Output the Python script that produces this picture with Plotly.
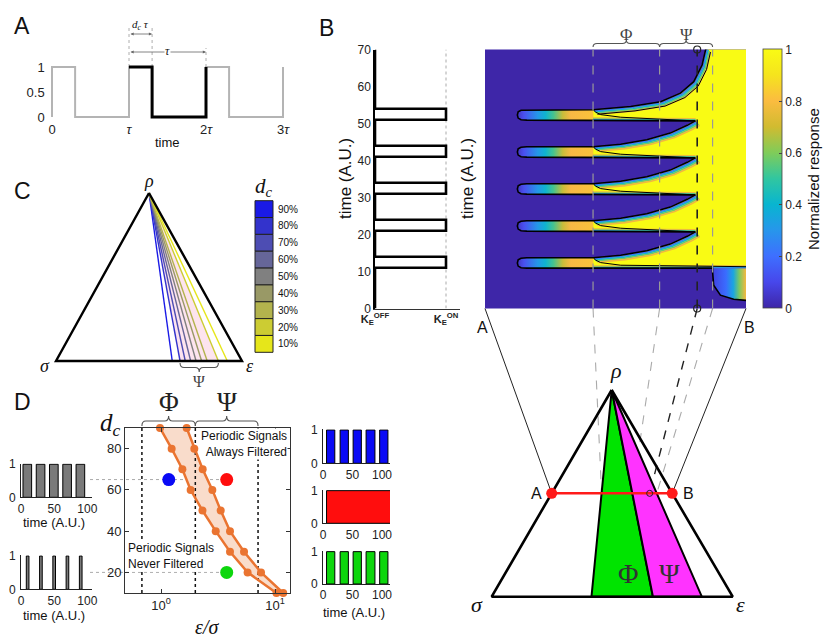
import math
import plotly.graph_objects as go

W, H = 830, 637
SANS = "Liberation Sans, Arial, sans-serif"
SERIF = "Liberation Serif, Times New Roman, serif"

# ---------------- data ----------------
# A: duty-cycle schematic, time in units of tau
a_time = [0, 0, 0.3, 0.3, 1, 1, 1.3, 1.3, 2, 2, 2.3, 2.3, 3, 3]
a_level = [0, 1, 1, 0, 0, 1, 1, 0, 0, 1, 1, 0, 0, 1]
a_ticks = [0, 1, 2, 3]
a_ticktext = ["0", "<i>τ</i>", "2<i>τ</i>", "3<i>τ</i>"]
a_duty = 0.3

# B: input pulses (left) and normalized response along the A-B cut (map)
b_on = [11, 21, 31, 41, 51]
b_off = [14, 24, 34, 44, 54]
b_ticks = list(range(0, 71, 10))
resp_on = [10.9, 20.9, 30.9, 40.9, 50.9]
resp_off = [13.7, 23.7, 33.7, 43.7, 53.7]
phi_lo, psi_lo, psi_hi = 0.414, 0.669, 0.872      # region borders on the cut
probe = 0.813
tongue_x = [0.414, 0.16, 0.138, 0.127, 0.124, 0.127, 0.138, 0.16, 0.414]
tongue_f = [1.0, 1.0, 0.96, 0.8, 0.5, 0.2, 0.04, 0.0, 0.0]
wedge_x = [0.414, 0.52, 0.62, 0.71, 0.775, 0.806]
wedge_dt = [0, 0.7, 1.9, 3.7, 5.8, 7.0]
last_x = [0.414, 0.558, 0.673, 0.749, 0.800, 0.832, 0.847]
last_dt = [0, 0.9, 2.2, 4.5, 7.6, 12.1, 16.8]
hook_x = [0.416, 0.424, 0.443, 0.52]
hook_dt = [2.7, 2.2, 1.5, 0.8]
onset_x = [0.872, 0.876, 0.902, 0.953, 1.0]
onset_t = [9.9, 6.3, 3.6, 2.5, 2.2]
cbar_ticks = [0, 0.2, 0.4, 0.6, 0.8, 1]

# C: d_c curves meeting the sigma-epsilon edge (fraction of the edge)
c_labels = ["90%", "80%", "70%", "60%", "50%", "40%", "30%", "20%", "10%"]
c_colors = ["#1a1ae6", "#3333cc", "#4d4db3", "#666699", "#808080",
            "#999966", "#b3b34d", "#cccc33", "#e6e61a"]
c_base = [0.625, 0.667, 0.695, 0.724, 0.753, 0.783, 0.813, 0.873, 0.921]

# D: filtering band
d_rows = [90, 80, 70, 60, 50, 40, 30, 20, 10]
d_lo = [0.98, 1.24, 1.54, 1.82, 2.31, 3.02, 4.03, 5.75, 10.3]
d_hi = [1.68, 1.96, 2.32, 2.82, 3.34, 4.03, 5.35, 7.54, 11.8]
d_borders = [0.68, 2.0, 7.1]
probe_ratio = [1.17, 3.77, 3.77]
probe_dc = [65, 65, 20]
probe_color = ["#0a0af5", "#ff0d0d", "#0dd60d"]
in_wide_on, in_wide_off = [3, 23, 43, 63, 83], [16, 36, 56, 76, 96]
in_thin_on, in_thin_off = [8, 28, 48, 68, 88], [12, 32, 52, 72, 92]
out_on, out_off = [6, 29, 51, 73, 96], [20, 43, 65, 88, 110]
steady_on, steady_off = [6], [120]

PARULA = [[0.0, "#3e26a8"], [0.1, "#4747eb"], [0.2, "#3e6fff"], [0.3, "#2796eb"],
          [0.4, "#08b5d0"], [0.5, "#31c6a0"], [0.6, "#80cc59"], [0.7, "#d1bb30"],
          [0.8, "#fbbc40"], [0.9, "#f5e41d"], [1.0, "#f9fb14"]]
TONGUE_CS = [[0, "#3e26a8"], [0.13, "#4a50f0"], [0.3, "#2596e8"], [0.4, "#0fb3d0"],
             [0.5, "#45c38f"], [0.62, "#c9bd3a"], [0.72, "#f8b845"], [1, "#f9c23a"]]
ONSET_CS = [[0, "#4242e0"], [0.4, "#3a6cff"], [0.62, "#1aa6e0"], [0.8, "#7cc860"], [1, "#f5b840"]]
YELLOW = "#f9fb14"

# ---------------- panel boxes in page pixels (x0, x1, y0, y1) ----------------
A_BOX, A_XR, A_YR = (49.7, 285.3, 62, 119.5), [-0.03, 3.03], [-0.05, 1.1]
B_BOX, B_XR = (375, 460.2, 49.5, 308.5), [0, 1.2]
HM_BOX = (485, 746, 49.5, 308.5)
T_RANGE = [0, 70]
D_BOX, D_XR, D_YR = (125, 290, 428, 593), [-0.3158, 1.1316], [10, 90]
SMALL = {"6": (21, 92, 463.6, 497.3), "7": (21, 92, 555.3, 589.3),
         "8": (323, 390, 429.3, 463.3), "9": (323, 390, 490, 523.3), "10": (323, 390, 551, 584)}
TRI_C = dict(top=(149, 193), left=(56, 361), right=(242, 361))
TRI_B = dict(top=(611.7, 390), left=(491.7, 596.7), right=(732.7, 596.7))
CUT = 0.5


def lin(v, r0, r1, p0, p1):
    return p0 + (v - r0) * (p1 - p0) / (r1 - r0)


def a_x(t):
    return lin(t, A_XR[0], A_XR[1], A_BOX[0], A_BOX[1])


def a_y(v):
    return lin(v, A_YR[0], A_YR[1], A_BOX[3], A_BOX[2])


def hm_x(f):
    return HM_BOX[0] + f * (HM_BOX[1] - HM_BOX[0])


def d_x(v):
    return lin(math.log10(v), D_XR[0], D_XR[1], D_BOX[0], D_BOX[1])


def d_y(v):
    return lin(v, D_YR[0], D_YR[1], D_BOX[3], D_BOX[2])


def base_pt(tri, f):
    (lx, ly), (rx, _) = tri["left"], tri["right"]
    return lx + f * (rx - lx), ly


def edge_pt(tri, side, s):
    (tx, ty), (ex, ey) = tri["top"], tri[side]
    return tx + s * (ex - tx), ty + s * (ey - ty)


fig = go.Figure()


def add(xs, ys, ax="", **kw):
    kw.setdefault("mode", "lines")
    fig.add_trace(go.Scatter(x=list(xs), y=list(ys), xaxis="x" + ax, yaxis="y" + ax,
                             hoverinfo="skip", showlegend=False, **kw))


annotations, shapes = [], []


def note(x, y, text, size=13, color="#111", family=SANS, **kw):
    annotations.append(dict(x=x, y=y, xref="x", yref="y", text=text, showarrow=False,
                            font=dict(size=size, color=color, family=family), **kw))


def brace(x0, x1, y, h, color="#555"):
    # curly brace whose tip sits h pixels above y (negative h: below)
    xm, r, ym, yt = (x0 + x1) / 2, min(4, (x1 - x0) / 8), y - h / 2, y - h
    path = (f"M{x0},{y} Q{x0},{ym} {x0 + r},{ym} L{xm - r},{ym} Q{xm},{ym} {xm},{yt} "
            f"Q{xm},{ym} {xm + r},{ym} L{x1 - r},{ym} Q{x1},{ym} {x1},{y}")
    shapes.append(dict(type="path", path=path, xref="x", yref="y",
                       line=dict(color=color, width=1.1)))


# ---------------- A ----------------
add(a_time, a_level, "2", line=dict(color="#b4b4b4", width=2))
add(a_time[5:10], a_level[5:10], "2", line=dict(color="black", width=3))
for t, top in [(1, 25), (1 + a_duty, 25), (2, 48)]:
    add([a_x(t), a_x(t)], [a_y(1), top], line=dict(color="#999", width=0.8, dash="dot"))
for t0, t1, yy in [(1, 1 + a_duty, 34), (1, 2, 52)]:
    annotations.append(dict(x=a_x(t1), y=yy, ax=a_x(t0), ay=yy, xref="x", yref="y",
                            axref="x", ayref="y", text="", showarrow=True, arrowhead=2,
                            arrowside="end+start", arrowsize=0.8, arrowwidth=0.8,
                            arrowcolor="#666"))
note(a_x(1 + a_duty / 2), 25, "<i>d<sub>c</sub> τ</i>", size=11, family=SERIF)
note(a_x(1.5), 51, "<i>τ</i>", size=12, family=SERIF, bgcolor="white", borderpad=0)
note(a_x(1.5), 142, "time", size=13)

# ---------------- B: input ----------------
sx, st = [0], [0]
for on, off in zip(b_on, b_off):
    sx += [0, 1, 1, 0]
    st += [on, on, off, off]
sx.append(0)
st.append(70)
add([1, 1], T_RANGE, "3", line=dict(color="#aaa", width=1, dash="dot"))
add(sx, st, "3", line=dict(color="black", width=2.6))

# ---------------- B: response map ----------------
fig.add_trace(go.Heatmap(
    z=[[0, 0], [0, 0]], x=[0, 1], y=T_RANGE, zmin=0, zmax=1, colorscale=PARULA,
    xaxis="x4", yaxis="y4", hoverinfo="skip",
    colorbar=dict(x=763 / W, xanchor="left", xpad=0, y=1 - 179 / H, yanchor="middle", ypad=0,
                  len=259, lenmode="pixels", thickness=19, outlinewidth=0.8, outlinecolor="#444",
                  tickvals=cbar_ticks, ticks="inside", ticklen=3, tickcolor="#444",
                  tickfont=dict(size=12, color="#222", family=SANS))))

# yellow (fully responding) region
yx, yt = [1.0, phi_lo], [resp_on[0], resp_on[0]]
for k in range(5):
    if k:
        yx.append(phi_lo)
        yt.append(resp_on[k])
    cx, cdt = (wedge_x, wedge_dt) if k < 4 else (last_x, last_dt)
    yx += cx
    yt += [resp_off[k] + d for d in cdt]
yx.append(1.0)
yt.append(yt[-1])
add(yx, yt, "4", fill="toself", fillcolor=YELLOW, line=dict(width=0))

# response building up before the first pulse at the far end of the cut
add([psi_hi] + onset_x + [1.0], [resp_on[0]] + onset_t + [resp_on[0]], "4", fill="toself",
    fillgradient=dict(type="horizontal", colorscale=ONSET_CS, start=psi_hi, stop=1.0),
    line=dict(width=0))

PX_X = 1 / (HM_BOX[1] - HM_BOX[0])
PX_T = 70 / (HM_BOX[3] - HM_BOX[2])
band_colors = ["#3e6fff", "#12b2d4", "#6cc870", "#f0b840"]


def band(xs, ts, dx, dt, step=1.1, width=1.6):
    for j, col in enumerate(band_colors, 1):
        add([x + step * j * dx * PX_X for x in xs], [t + step * j * dt * PX_T for t in ts], "4",
            line=dict(color=col, width=width))


tips = [(wedge_x[-1], resp_off[k] + wedge_dt[-1]) for k in range(4)]
for k in range(5):
    on, off = resp_on[k], resp_off[k]
    tt = [on + f * (off - on) for f in tongue_f]
    add(tongue_x, tt, "4", fill="toself", line=dict(width=0),
        fillgradient=dict(type="horizontal", colorscale=TONGUE_CS, start=0.11, stop=phi_lo))
    cx, cdt = (wedge_x, wedge_dt) if k < 4 else (last_x, last_dt)
    dts = [off + d for d in cdt]
    band(cx, dts, 1, -1)
    if k == 0:
        rx, rt, end = [phi_lo, 1.0], [on, on], (1.0, on + 0.4)
    else:
        rx, rt, end = [phi_lo, tips[k - 1][0]], [on, tips[k - 1][1]], tips[k - 1]
    band(rx, rt, 0, 1, step=0.6, width=1.2)
    add(hook_x + [end[0]], [on + d for d in hook_dt] + [end[1]], "4",
        line=dict(color="black", width=1))
    if k == 4:
        add([x + 4.4 * PX_X for x in cx], [t - 4.4 * PX_T for t in dts], "4",
            line=dict(color="black", width=1))
    ox = cx[::-1] + tongue_x[1:]
    ot = dts[::-1] + tt[1:]
    if k == 0:
        ox += [psi_hi] + onset_x
        ot += [on] + onset_t
    else:
        ox.append(tips[k - 1][0])
        ot.append(tips[k - 1][1])
    add(ox, ot, "4", line=dict(color="black", width=1.6))

for f in (phi_lo, psi_lo, psi_hi):
    add([f, f], T_RANGE, "4", line=dict(color="#999", width=1.2, dash="dash"))
add([probe, probe], T_RANGE, "4", mode="lines+markers", cliponaxis=False,
    line=dict(color="#222", width=1.6, dash="dash"),
    marker=dict(symbol="circle-open", size=7, color="#222", line=dict(width=1.2)))

# braces above the map, links down to the cut in the triangle
brace(hm_x(phi_lo), hm_x(psi_lo), 47, 7)
brace(hm_x(psi_lo), hm_x(psi_hi), 47, 7)
note((hm_x(phi_lo) + hm_x(psi_lo)) / 2, 34, "Φ", size=17, color="#444", family=SERIF)
note((hm_x(psi_lo) + hm_x(psi_hi)) / 2, 34, "Ψ", size=17, color="#444", family=SERIF)

A_pt, B_pt = edge_pt(TRI_B, "left", CUT), edge_pt(TRI_B, "right", CUT)


def cut_pt(f):
    return A_pt[0] + f * (B_pt[0] - A_pt[0]), A_pt[1]


add([HM_BOX[0], A_pt[0]], [HM_BOX[3], A_pt[1]], line=dict(color="#222", width=1))
add([HM_BOX[1], B_pt[0]], [HM_BOX[3], B_pt[1]], line=dict(color="#222", width=1))
for f in (phi_lo, psi_lo, psi_hi):
    add([hm_x(f), cut_pt(f)[0]], [HM_BOX[3], A_pt[1]], line=dict(color="#aaa", width=1.1, dash="dash"))
add([hm_x(probe), cut_pt(probe)[0]], [HM_BOX[3], A_pt[1]], line=dict(color="#222", width=1.4, dash="dash"))
note(482, 327, "A", size=16)
note(749, 327, "B", size=16)

# ---------------- bottom triangle ----------------
(tx, ty) = TRI_B["top"]
for f0, f1, col in [(phi_lo, psi_lo, "#00e400"), (psi_lo, psi_hi, "#ff33ff")]:
    p0, p1 = base_pt(TRI_B, f0), base_pt(TRI_B, f1)
    add([tx, p0[0], p1[0], tx], [ty, p0[1], p1[1], ty], fill="toself", fillcolor=col,
        line=dict(color="black", width=2))
tri = [TRI_B["top"], TRI_B["left"], TRI_B["right"], TRI_B["top"]]
add([p[0] for p in tri], [p[1] for p in tri], line=dict(color="black", width=2.6))
add([A_pt[0], B_pt[0]], [A_pt[1], B_pt[1]], mode="lines+markers", cliponaxis=False,
    line=dict(color="#ff1a1a", width=2.5), marker=dict(size=11, color="#ff1a1a"))
add([cut_pt(probe)[0]], [A_pt[1]], mode="markers",
    marker=dict(symbol="circle-open", size=6, color="#222", line=dict(width=1)))
note(A_pt[0] - 15, A_pt[1], "A", size=16)
note(B_pt[0] + 16, B_pt[1], "B", size=16)
note(tx + 4, ty - 20, "<i>ρ</i>", size=22, family=SERIF)
note(TRI_B["left"][0] - 15, TRI_B["left"][1] + 8, "<i>σ</i>", size=22, family=SERIF)
note(TRI_B["right"][0] + 8, TRI_B["right"][1] + 8, "<i>ε</i>", size=22, family=SERIF)
note((base_pt(TRI_B, phi_lo)[0] + base_pt(TRI_B, psi_lo)[0]) / 2 + 6, 573, "Φ", size=28,
     color="#333", family=SERIF)
note((base_pt(TRI_B, psi_lo)[0] + base_pt(TRI_B, psi_hi)[0]) / 2 - 8, 573, "Ψ", size=28,
     color="#333", family=SERIF)

# ---------------- C ----------------
(cx0, cy0) = TRI_C["top"]
pa, pb = base_pt(TRI_C, c_base[1]), base_pt(TRI_C, c_base[7])
add([cx0, pa[0], pb[0], cx0], [cy0, pa[1], pb[1], cy0], fill="toself", fillcolor="#fde4ef",
    line=dict(width=0))
for f, col in zip(c_base, c_colors):
    p = base_pt(TRI_C, f)
    add([cx0, p[0]], [cy0, p[1]], line=dict(color=col, width=1.4))
tri = [TRI_C["top"], TRI_C["left"], TRI_C["right"], TRI_C["top"]]
add([p[0] for p in tri], [p[1] for p in tri], line=dict(color="black", width=2.4))
note(cx0, cy0 - 12, "<i>ρ</i>", size=18, family=SERIF)
note(TRI_C["left"][0] - 11, TRI_C["left"][1] + 5, "<i>σ</i>", size=18, family=SERIF)
note(TRI_C["right"][0] + 8, TRI_C["right"][1] + 5, "<i>ε</i>", size=18, family=SERIF)
brace(pa[0], pb[0], 363, -9)
note((pa[0] + pb[0]) / 2, 381, "Ψ", size=16, color="#444", family=SERIF)
box_h = (352.3 - 200.7) / len(c_labels)
for i, (lab, col) in enumerate(zip(c_labels, c_colors)):
    y0 = 200.7 + i * box_h
    shapes.append(dict(type="rect", xref="x", yref="y", x0=255, x1=273, y0=y0, y1=y0 + box_h,
                       fillcolor=col, line=dict(color="#222", width=1)))
    note(276, y0 + box_h / 2, lab, size=10, xanchor="left")
note(264, 187, "<i>d<sub>c</sub></i>", size=21, family=SERIF)

# ---------------- D ----------------
add(d_lo + d_hi[::-1], d_rows + d_rows[::-1], "5", fill="toself", fillcolor="#f9dccb",
    line=dict(width=0))
for v in d_borders:
    add([v, v], D_YR, "5", line=dict(color="#111", width=1.5, dash="dot"))
for series in (d_lo, d_hi):
    add(series, d_rows, "5", mode="lines+markers", cliponaxis=False,
        line=dict(color="#ea7431", width=2.5), marker=dict(size=8, color="#ea7431"))
for r, dc in zip(probe_ratio[1:], probe_dc[1:]):
    add([90, d_x(r)], [d_y(dc), d_y(dc)], line=dict(color="#aaa", width=1, dash="dot"))
add(probe_ratio, probe_dc, "5", mode="markers", marker=dict(size=13, color=probe_color))
brace(d_x(d_borders[0]), d_x(d_borders[1]), 426, 10)
brace(d_x(d_borders[1]), d_x(d_borders[2]), 426, 10)
note((d_x(d_borders[0]) + d_x(d_borders[1])) / 2, 402, "Φ", size=27, color="#222", family=SERIF)
note((d_x(d_borders[1]) + d_x(d_borders[2])) / 2, 402, "Ψ", size=27, color="#222", family=SERIF)
note(110, 424, "<i>d<sub>c</sub></i>", size=25, family=SERIF)
note(207, 627, "<i>ε/σ</i>", size=20, family=SERIF)
note(288, 444, "Periodic Signals<br>Always Filtered", size=12, xanchor="right", align="right",
     bgcolor="white", borderpad=0)
note(127, 556, "Periodic Signals<br>Never Filtered", size=12, xanchor="left", align="left",
     bgcolor="white", borderpad=0)


def pulse_bars(on, off, ax, color):
    fig.add_trace(go.Bar(x=[(a + b) / 2 for a, b in zip(on, off)], y=[1] * len(on),
                         width=[b - a for a, b in zip(on, off)], xaxis="x" + ax, yaxis="y" + ax,
                         marker=dict(color=color, line=dict(color="black", width=1)),
                         hoverinfo="skip", showlegend=False))


pulse_bars(in_wide_on, in_wide_off, "6", "#7a7a7a")
pulse_bars(in_thin_on, in_thin_off, "7", "#7a7a7a")
pulse_bars(out_on, out_off, "8", probe_color[0])
pulse_bars(steady_on, steady_off, "9", probe_color[1])
pulse_bars(out_on, out_off, "10", probe_color[2])
note(54, 522, "time (A.U.)", size=13)
note(54, 615, "time (A.U.)", size=13)
note(354, 612, "time (A.U.)", size=13)

# ---------------- titles and panel letters ----------------
note(345, 179, "time (A.U.)", size=17, textangle=-90)
note(467, 179, "time (A.U.)", size=17, textangle=-90)
note(813, 179, "Normalized response", size=15, textangle=-90)
for letter, x, y in [("A", 22, 26), ("B", 326, 28), ("C", 22, 191), ("D", 22, 402)]:
    note(x, y, letter, size=23)

# ---------------- axes ----------------
BASE = dict(showgrid=False, zeroline=False, fixedrange=True, ticks="", showline=False,
            automargin=False, tickfont=dict(size=12, color="#222", family=SANS))
axes = {}


def set_axes(ax, box, xa, ya):
    x0, x1, y0, y1 = box
    axes["xaxis" + ax] = {**BASE, "domain": [x0 / W, x1 / W], "anchor": "y" + ax, **xa}
    axes["yaxis" + ax] = {**BASE, "domain": [1 - y1 / H, 1 - y0 / H], "anchor": "x" + ax, **ya}


F13 = dict(size=13, color="#222", family=SANS)
set_axes("", (0, W, 0, H), dict(range=[0, W], visible=False), dict(range=[H, 0], visible=False))
set_axes("2", A_BOX, dict(range=A_XR, tickvals=a_ticks, ticktext=a_ticktext, tickfont=F13),
         dict(range=A_YR, tickvals=[0, 0.5, 1], ticktext=["0", "0.5", "1"], tickfont=F13,
              ticklabelstandoff=4))
set_axes("3", B_BOX,
         dict(range=B_XR, tickvals=[0, 1], showline=True, linecolor="#333", linewidth=1,
              ticktext=["<b>K<sub>E</sub><sup>OFF</sup></b>", "<b>K<sub>E</sub><sup>ON</sup></b>"],
              tickfont=dict(size=11, color="#222", family=SANS)),
         dict(range=T_RANGE, tickvals=b_ticks, showline=True, linecolor="black", linewidth=1.5))
set_axes("4", HM_BOX, dict(range=[0, 1], visible=False), dict(range=T_RANGE, visible=False))
set_axes("5", D_BOX,
         dict(type="log", range=D_XR, tickvals=[1, 10], ticktext=["10<sup>0</sup>", "10<sup>1</sup>"],
              ticks="inside", ticklen=4, showline=True, mirror="ticks", linecolor="#333",
              tickcolor="#333", tickfont=F13),
         dict(range=D_YR, tickvals=[20, 40, 60, 80], ticks="inside", ticklen=4, showline=True,
              mirror="ticks", linecolor="#333", tickcolor="#333", tickfont=F13))
for ax, box in SMALL.items():
    xr = [0, 107] if ax in ("6", "7") else [0, 113.5]
    set_axes(ax, box, dict(range=xr, tickvals=[0, 50, 100], showline=True, linecolor="#222"),
             dict(range=[0, 1.02], tickvals=[0, 1], showline=True, linecolor="#222",
                  ticklabelstandoff=2))

fig.update_layout(template="none", width=W, height=H, margin=dict(l=0, r=0, t=0, b=0, autoexpand=False),
                  paper_bgcolor="white", plot_bgcolor="rgba(0,0,0,0)", showlegend=False,
                  font=dict(family=SANS, color="#111"), annotations=annotations, shapes=shapes,
                  **axes)
# the page body keeps its default 8px margin otherwise, which pushes the figure off the window
fig.write_html("out.html", config={"displayModeBar": False},
               post_script="document.body.style.margin='0';document.body.style.overflow='hidden';")
